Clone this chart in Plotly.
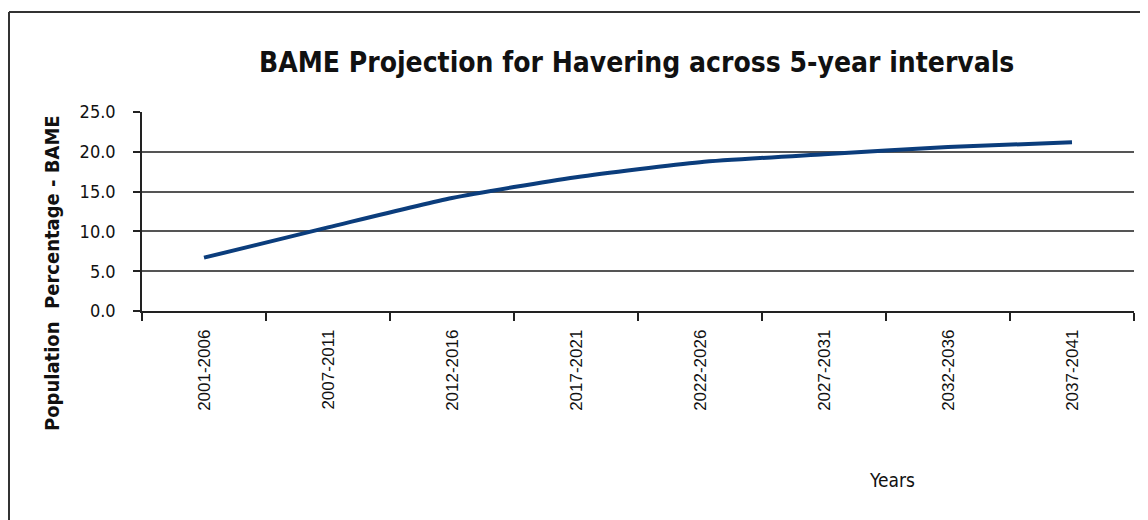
import plotly.graph_objects as go

categories = ["2001-2006", "2007-2011", "2012-2016", "2017-2021",
              "2022-2026", "2027-2031", "2032-2036", "2037-2041"]
bame_pct = [6.7, 10.5, 14.2, 16.8, 18.7, 19.7, 20.6, 21.2]
y_ticks = [0, 5, 10, 15, 20, 25]
y_tick_labels = ["0.0", "5.0", "10.0", "15.0", "20.0", "25.0"]

title_text = "BAME Projection for Havering across 5-year intervals"
y_title = "Population\u00a0 Percentage - BAME"
x_title = "Years"

NARROW = "Liberation Sans Narrow, DejaVu Sans Condensed, Roboto, Arial, sans-serif"

# page has an 8px body margin: build the figure in coordinates shifted by -8
OFF = 8
W, H = 1148 - OFF, 520 - OFF
L, R, T, B = 142 - OFF, 1134 - OFF, 112 - OFF, 311 - OFF
PW, PH = R - L, B - T


def px(x):
    return (x - OFF - L) / PW


def py(y):
    return (B - (y - OFF)) / PH


fig = go.Figure()
fig.add_trace(go.Scatter(
    x=categories, y=bame_pct, mode="lines",
    line=dict(color="#0b3d7c", width=4, shape="spline", smoothing=0.6),
    hoverinfo="x+y", showlegend=False,
))

fig.update_layout(
    width=W, height=H,
    margin=dict(l=L, r=W - R, t=T, b=H - B),
    paper_bgcolor="white", plot_bgcolor="white",
    showlegend=False,
    xaxis=dict(
        type="category", categoryorder="array", categoryarray=categories,
        tickson="boundaries", ticks="outside", ticklen=8, tickwidth=1.5, tickcolor="#222",
        tickangle=-90, ticklabelstandoff=10,
        tickfont=dict(family="Liberation Sans, Arial, sans-serif", size=17, color="#111"),
        showline=True, linecolor="#222", linewidth=1.5,
        showgrid=False, zeroline=False,
        range=[-0.5, 7.5],
    ),
    yaxis=dict(
        range=[0, 25], tickmode="array", tickvals=y_ticks, ticktext=y_tick_labels,
        ticks="outside", ticklen=7, tickwidth=1.5, tickcolor="#222",
        ticklabelstandoff=14,
        tickfont=dict(family=NARROW, size=18, color="#111"),
        showline=True, linecolor="#222", linewidth=1.5,
        showgrid=True, gridcolor="#555", gridwidth=1.5,
        zeroline=False,
    ),
    annotations=[
        dict(text=f"<b>{title_text}</b>", xref="paper", yref="paper",
             x=px(636), y=py(62), xanchor="center", yanchor="middle",
             showarrow=False, font=dict(family=NARROW, size=28, color="#111")),
        dict(text=f"<b>{y_title}</b>", xref="paper", yref="paper",
             x=px(52), y=py(273), xanchor="center", yanchor="middle",
             textangle=-90, showarrow=False, font=dict(family=NARROW, size=20, color="#111")),
        dict(text=x_title, xref="paper", yref="paper",
             x=px(892), y=py(480), xanchor="center", yanchor="middle",
             showarrow=False, font=dict(family=NARROW, size=19, color="#111")),
    ],
    shapes=[
        dict(type="line", xref="paper", yref="paper",
             x0=px(9), x1=px(1148), y0=py(12), y1=py(12),
             line=dict(color="#333", width=2)),
        dict(type="line", xref="paper", yref="paper",
             x0=px(9), x1=px(9), y0=py(12), y1=py(520),
             line=dict(color="#333", width=2)),
    ],
)

fig.write_html("out.html")
